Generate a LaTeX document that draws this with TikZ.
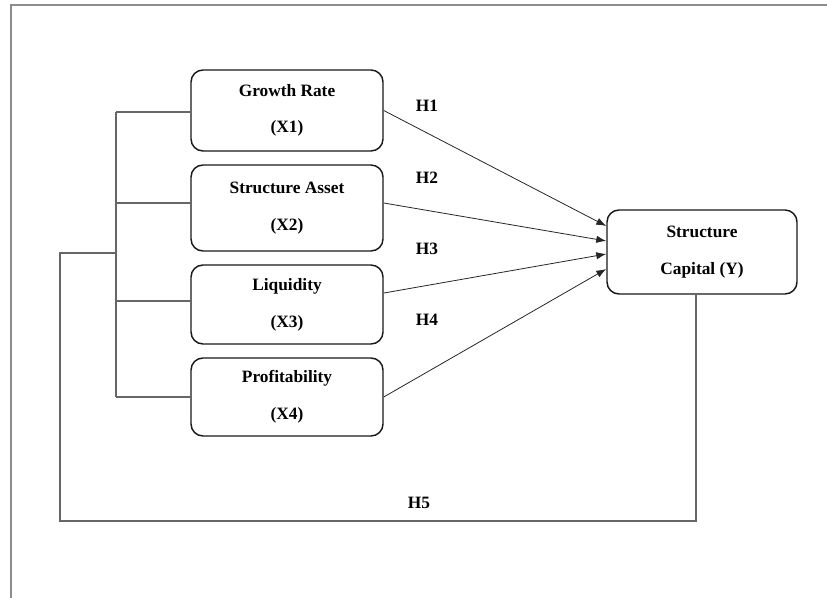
\documentclass[tikz,border=0pt]{standalone}
\usepackage{fontspec}
\setmainfont{Liberation Serif}
\usetikzlibrary{arrows.meta}
\begin{document}
\begin{tikzpicture}[x=0.75pt,y=-0.75pt,
  varbox/.style={draw=black!90, line width=1.1pt, rounded corners=9pt, fill=white,
    minimum width=144pt, inner sep=0pt, align=center,
    font=\fontsize{13}{27.5}\selectfont\bfseries},
  hlabel/.style={font=\fontsize{13}{15}\selectfont\bfseries, inner sep=0pt},
  link/.style={draw=black!60, line width=0.8pt},
  path/.style={draw=black!85, line width=0.6pt, -{Latex[length=7.5pt,width=5.5pt]}},
  frame/.style={draw=black!45, line width=1.1pt}
]
\useasboundingbox (0,0) rectangle (827,598);
% outer frame (top and left)
\coordinate (fbl) at (11,598);
\coordinate (ftl) at (11,5);
\coordinate (ftr) at (827,5);
\draw[frame] (fbl) -- (ftl) -- (ftr);

% boxes
\node[varbox, minimum height=60.75pt] (b1) at (287,110.5) {Growth Rate\\(X1)};
\node[varbox, minimum height=64.5pt] (b2) at (287,208) {Structure Asset\\(X2)};
\node[varbox, minimum height=59.25pt] (b3) at (287,304.5) {Liquidity\\(X3)};
\node[varbox, minimum height=58.5pt] (b4) at (287,397) {Profitability\\(X4)};
\node[varbox, minimum width=142.5pt, minimum height=63pt] (y) at (702,252) {Structure\\Capital (Y)};

% bus on the left
\coordinate (k1) at (116,112);
\coordinate (k2) at (116,203);
\coordinate (k3) at (116,301);
\coordinate (k4) at (116,397);
\coordinate (kl) at (116,253);
\coordinate (lc) at (60,253);
\coordinate (lb) at (60,521);
\coordinate (rb) at (696,521);
\draw[link] (k1) -- (k4);
\draw[link] (k1) -- (k1 -| b1.west);
\draw[link] (k2) -- (k2 -| b2.west);
\draw[link] (k3) -- (k3 -| b3.west);
\draw[link] (k4) -- (k4 -| b4.west);
\draw[link] (kl) -- (lc) -- (lb) -- (rb) -- (rb |- y.south);

% hypothesis arrows
\draw[path] (b1.east) -- ([yshift=19.5pt]y.west);
\draw[path] ([yshift=3.75pt]b2.east) -- ([yshift=8.25pt]y.west);
\draw[path] ([yshift=8.6pt]b3.east) -- ([yshift=-1.5pt]y.west);
\draw[path] (b4.east) -- ([yshift=-12.75pt]y.west);

% labels
\node[hlabel] (h1) at (427,106) {H1};
\node[hlabel] (h2) at (427,178) {H2};
\node[hlabel] (h3) at (427,249) {H3};
\node[hlabel] (h4) at (427,320) {H4};
\node[hlabel] (h5) at (419,503) {H5};
\end{tikzpicture}
\end{document}
